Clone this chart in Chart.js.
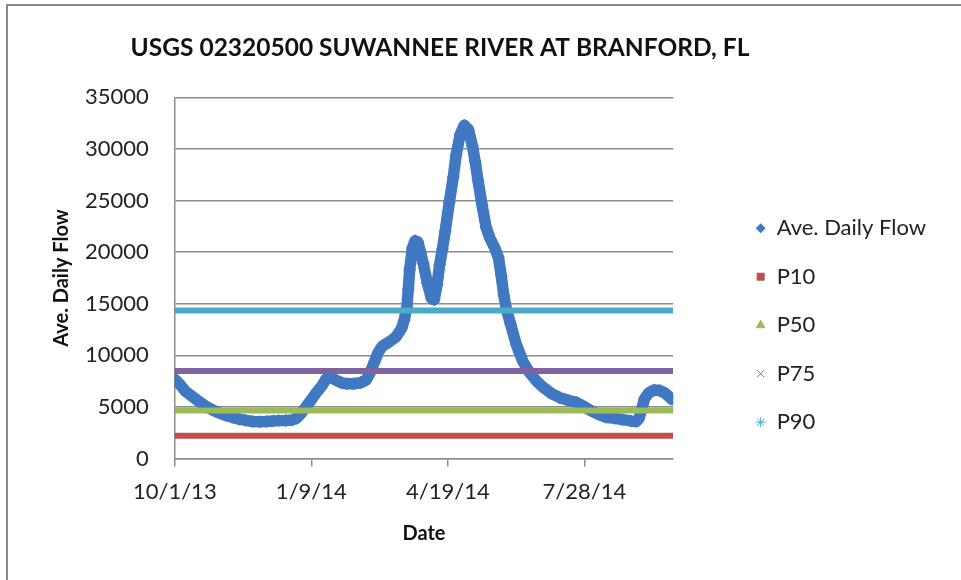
<!DOCTYPE html>
<html>
<head>
<meta charset="utf-8">
<title>Suwannee River at Branford</title>
<script src="https://cdn.jsdelivr.net/npm/chart.js@4.4.1/dist/chart.umd.min.js"></script>
<style>
  html, body { margin: 0; padding: 0; background: #fff; }
  #wrap { position: relative; width: 961px; height: 580px; }
  #frame { position: absolute; left: 6px; top: 4px; right: 0; bottom: 0;
           border-left: 2px solid #8a8a8a; border-top: 2px solid #8a8a8a; pointer-events: none; }
  canvas { position: absolute; left: 0; top: 0; }
</style>
</head>
<body>
<div id="wrap">
  <canvas id="flowChart" width="961" height="580"></canvas>
  <div id="frame"></div>
</div>
<script>
// days after 10/1/13 and the average daily flow read at that day
const flowDay = [0, 4, 8, 13, 18, 23, 27, 32, 37, 42, 47, 52, 57, 62, 67, 72, 76, 81, 86, 89,
  92, 96, 100, 104, 108, 111, 114, 118, 122, 126, 131, 136, 140, 143, 146, 149, 152, 157, 162, 166,
  168, 170, 171, 172, 174, 176, 178, 180, 182, 185, 188, 190, 192, 194, 196, 198, 201, 204, 206, 209,
  212, 215, 218, 220, 222, 225, 228, 231, 234, 237, 239, 241, 243, 246, 250, 255, 260, 265, 270, 276,
  282, 288, 294, 299, 304, 310, 316, 322, 328, 334, 338, 340, 342, 344, 347, 351, 355, 359, 362, 364];
const flowCfs = [7700, 7150, 6500, 6000, 5500, 5050, 4750, 4450, 4200, 4000, 3820, 3700, 3600, 3580, 3600, 3650, 3680, 3700, 3750, 3900,
  4300, 5000, 5700, 6450, 7100, 7750, 7900, 7600, 7350, 7250, 7250, 7350, 7600, 8300, 9300, 10300, 10900, 11300, 11800, 12600,
  13400, 14700, 16400, 18300, 20400, 21100, 21000, 20000, 18900, 17000, 15500, 15400, 16800, 18800, 20300, 22000, 24800, 27300, 29400, 31400,
  32300, 31900, 30300, 28800, 27000, 24600, 22400, 21300, 20500, 19500, 17800, 15800, 14400, 13000, 11100, 9400, 8300, 7500, 6900, 6300,
  5900, 5650, 5450, 5100, 4700, 4300, 4000, 3900, 3780, 3650, 3600, 3900, 4800, 5800, 6350, 6650, 6600, 6350, 6000, 5750];

// flow percentiles (constant over the year)
const pctNames = ['P10', 'P50', 'P75', 'P90'];
const pctValues = [2220, 4650, 8500, 14350];

const startDate = new Date(2013, 9, 1);
const dayRange = [0, 365];
const yTicks = { min: 0, max: 35000, step: 5000 };

const pctColors = ['#C0504D', '#9BBB59', '#8064A2', '#4BACC6'];
const pctMarkers = ['rect', 'triangle', 'crossRot', 'star'];
const flowColor = '#4178C2';
const axisGrey = '#8c8c8c';
const font = 'Lato, "Open Sans", sans-serif';

function dayLabel(v) {
    const d = new Date(startDate.getTime());
    d.setDate(d.getDate() + v);
    return (d.getMonth() + 1) + '/' + d.getDate() + '/' + String(d.getFullYear()).slice(2);
}

const datasets = [{
    label: 'Ave. Daily Flow',
    data: flowDay.map((d, i) => ({ x: d, y: flowCfs[i] })),
    borderColor: flowColor,
    backgroundColor: flowColor,
    borderWidth: 11.5,
    borderJoinStyle: 'round',
    borderCapStyle: 'round',
    pointStyle: 'rectRot',
    pointRadius: 6.5,
    pointBorderWidth: 0,
    pointBackgroundColor: flowColor,
    pointBorderColor: flowColor,
    order: 1
}];

pctNames.forEach((name, i) => {
    datasets.push({
        label: name,
        data: dayRange.map(d => ({ x: d, y: pctValues[i] })),
        borderColor: pctColors[i],
        backgroundColor: pctColors[i],
        borderWidth: 6,
        pointStyle: pctMarkers[i],
        pointRadius: 0,
        pointBorderWidth: 1,
        pointBackgroundColor: pctColors[i],
        pointBorderColor: pctColors[i],
        order: 0
    });
});

// Excel centres the title a bit left of the canvas middle
const titleShift = {
    id: 'titleShift',
    afterLayout(chart) {
        if (chart.titleBlock) chart.titleBlock.right -= 86;
    }
};

new Chart(document.getElementById('flowChart'), {
    type: 'line',
    data: { datasets: datasets },
    plugins: [titleShift],
    options: {
        responsive: false,
        animation: false,
        layout: { padding: { left: 30, right: 25, top: 0, bottom: 0 } },
        plugins: {
            title: {
                display: true,
                text: 'USGS 02320500 SUWANNEE RIVER AT BRANFORD, FL',
                color: '#111',
                font: { family: font, size: 24.5, weight: 'bold' },
                padding: { top: 33, bottom: 35 }
            },
            legend: {
                position: 'right',
                title: { display: true, text: '', padding: { top: 56, bottom: 0 } },
                labels: {
                    usePointStyle: true,
                    sort: (a, b) => a.datasetIndex - b.datasetIndex,
                    boxWidth: 10,
                    boxHeight: 7,
                    padding: 26.5,
                    color: '#222',
                    font: { family: font, size: 22 }
                }
            },
            tooltip: { enabled: false }
        },
        scales: {
            x: {
                type: 'linear',
                min: dayRange[0],
                max: dayRange[1],
                ticks: {
                    stepSize: 100,
                    includeBounds: false,
                    maxRotation: 0,
                    padding: 12,
                    color: '#222',
                    font: { family: font, size: 22 },
                    callback: v => dayLabel(v)
                },
                grid: { drawOnChartArea: false, drawTicks: true, tickLength: 8, color: axisGrey, lineWidth: 1.5 },
                border: { color: axisGrey, width: 1.5 },
                title: {
                    display: true,
                    text: 'Date',
                    color: '#111',
                    font: { family: font, size: 20, weight: 'bold' },
                    padding: { top: 5, bottom: 34 }
                }
            },
            y: {
                min: yTicks.min,
                max: yTicks.max,
                ticks: {
                    stepSize: yTicks.step,
                    padding: 0,
                    color: '#222',
                    font: { family: font, size: 22 },
                    callback: v => String(v)
                },
                grid: { color: axisGrey, lineWidth: 1.5, drawTicks: true, tickLength: 26, tickColor: 'rgba(0,0,0,0)' },
                border: { color: axisGrey, width: 1.5 },
                title: {
                    display: true,
                    text: 'Ave. Daily Flow',
                    color: '#111',
                    font: { family: font, size: 20, weight: 'bold' },
                    padding: { top: 20, bottom: 11 }
                }
            },
            // empty strip between the plot and the legend (hidden, only keeps its width)
            gap: {
                position: 'right',
                display: false,
                afterFit: s => { s.width = 56; }
            }
        }
    }
});
</script>
</body>
</html>
